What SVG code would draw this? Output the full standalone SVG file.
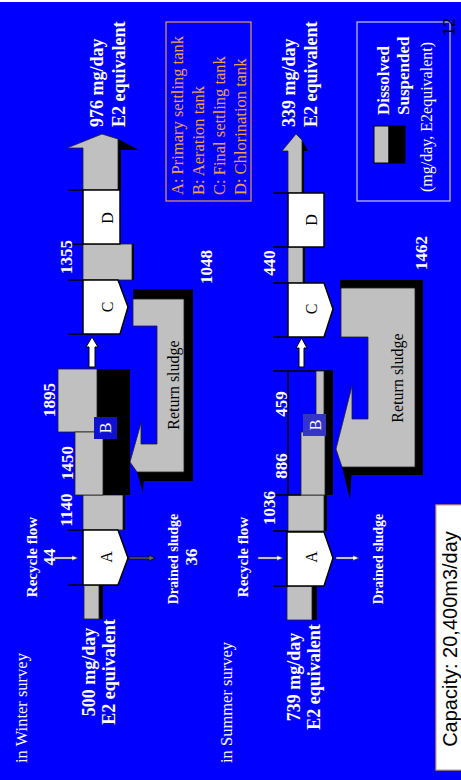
<svg xmlns="http://www.w3.org/2000/svg" width="461" height="780" viewBox="0 0 461 780">
<style>
.tank{fill:#ffffff;stroke:#000;stroke-width:1.5}
.g{fill:#c0c0c0;stroke:#222;stroke-width:0.8}
.k{fill:#000}
.tick{stroke:#000;stroke-width:1.5}
.wl{font-family:"Liberation Serif",serif;font-weight:bold;fill:#fff}
.big{font-size:18px}
.num{font-size:17px;text-anchor:middle}
.lbl{font-size:15px;text-anchor:middle}
.tl{font-family:"Liberation Serif",serif;font-size:16px;fill:#000;text-anchor:middle}
.or{font-family:"Liberation Serif",serif;font-size:16.5px;fill:#f0a050}
.arw{fill:#fff;stroke:#333;stroke-width:0.6}
</style>
<rect x="0" y="0" width="461" height="780" fill="#fff"/>
<rect x="0" y="2" width="461" height="778" fill="#0000ff"/>

<g id="connectors">
  <!-- Winter effluent -->
  <rect class="k" x="118" y="148" width="3" height="42"/>
  <polygon class="k" points="118,139 139,150 118,150"/>
  <polygon class="g" points="83,190 83,148 67,148 102,134 118,139 118,190"/>
  <!-- Winter C-D -->
  <rect class="k" x="131" y="244" width="3" height="36"/>
  <rect class="g" x="83" y="244" width="49" height="36"/>
  <!-- Winter up arrow B->C -->
  <polygon class="tank" style="stroke-width:1" points="89,367 89,347 86,347 92,337 98,347 95,347 95,367"/>
  <!-- Winter A-B -->
  <rect class="k" x="122" y="495" width="3" height="35"/>
  <rect class="g" x="83" y="495" width="40" height="35"/>
  <!-- Winter influent -->
  <rect class="k" x="98" y="585" width="5" height="34"/>
  <rect class="g" x="84" y="585" width="15" height="34"/>
  <!-- Winter recycle / drained -->
  <polygon class="arw" points="54,557 72,557 72,555.5 78,558 72,560.5 72,559 54,559"/>
  <polygon style="fill:#666;stroke:#000;stroke-width:0.7" points="129,557 149,557 149,555 155,558 149,561 149,559 129,559"/>
  <!-- Winter return sludge -->
  <rect class="k" x="133" y="289" width="60" height="10"/>
  <rect class="k" x="184" y="289" width="9" height="192"/>
  <rect class="k" x="143" y="472" width="50" height="9"/>
  <polygon class="k" points="137,472 143,493 144,472"/>
  <polygon class="g" points="133,299 184,299 184,472 137,472 130,462 141,423 141,444 157,444 157,326 133,326"/>
  <text class="tl" transform="translate(179,385) rotate(-90)">Return sludge</text>

  <!-- Summer effluent -->
  <rect class="k" x="302" y="151" width="2" height="42"/>
  <polygon class="k" points="302,140 308,151 302,151"/>
  <polygon class="g" points="288,193 288,151 282,151 296,134 302,140 302,193"/>
  <!-- Summer C-D -->
  <rect class="k" x="302" y="247" width="3" height="36"/>
  <rect class="g" x="288" y="247" width="15" height="36"/>
  <!-- Summer up arrow -->
  <polygon class="tank" style="stroke-width:1" points="299,367 299,348 296,348 301.5,338 307,348 304,348 304,367"/>
  <!-- Summer A-B -->
  <rect class="k" x="323" y="495" width="4" height="36"/>
  <rect class="g" x="288" y="495" width="36" height="36"/>
  <!-- Summer influent -->
  <rect class="k" x="311" y="586" width="6" height="34"/>
  <rect class="g" x="287" y="586" width="25" height="34"/>
  <!-- Summer recycle / drained -->
  <polygon class="arw" points="258,557 277,557 277,555.5 283,558 277,560.5 277,559 258,559"/>
  <polygon class="arw" points="336,557 353,557 353,555.5 359,558 353,560.5 353,559 336,559"/>
  <!-- Summer return sludge -->
  <rect class="k" x="340" y="280" width="83" height="9"/>
  <rect class="k" x="415" y="280" width="8" height="195"/>
  <rect class="k" x="350" y="467" width="73" height="8"/>
  <polygon class="k" points="342,467 350,499 352,467"/>
  <polygon class="g" points="341,288 415,288 415,467 342,467 336,449 352,386 352,419 368,419 368,337 341,337"/>
  <text class="tl" transform="translate(403,378) rotate(-90)">Return sludge</text>
</g>

<g id="ticks">
  <line class="tick" x1="68" y1="190" x2="83" y2="190"/>
  <line class="tick" x1="68" y1="244" x2="83" y2="244"/>
  <line class="tick" x1="68" y1="280" x2="83" y2="280"/>
  <line class="tick" x1="68" y1="334" x2="83" y2="334"/>
  <line class="tick" x1="68" y1="530" x2="83" y2="530"/>
  <line class="tick" x1="68" y1="585" x2="83" y2="585"/>
  <line class="tick" x1="273" y1="193" x2="288" y2="193"/>
  <line class="tick" x1="273" y1="247" x2="288" y2="247"/>
  <line class="tick" x1="273" y1="283" x2="288" y2="283"/>
  <line class="tick" x1="273" y1="337" x2="288" y2="337"/>
  <line class="tick" x1="273" y1="371" x2="333" y2="371"/>
  <line class="tick" x1="288" y1="371" x2="288" y2="495"/>
  <line class="tick" x1="273" y1="495" x2="301" y2="495"/>
  <line class="tick" x1="273" y1="531" x2="288" y2="531"/>
  <line class="tick" x1="273" y1="586" x2="288" y2="586"/>
</g>

<!-- Winter tanks -->
<g id="winter-D">
  <rect class="tank" x="83" y="190" width="37" height="54"/>
  <text class="tl" transform="translate(113,218) rotate(-90)">D</text>
</g>
<g id="winter-C">
  <polygon class="tank" points="83,280 118,280 128,307 120,334 83,334"/>
  <text class="tl" transform="translate(113,307) rotate(-90)">C</text>
</g>
<g id="winter-B">
  <rect class="k" x="96" y="369" width="34" height="126"/>
  <rect class="g" x="58" y="369" width="39" height="63"/>
  <rect class="g" x="75" y="432" width="28" height="63"/>
  <rect x="94" y="417" width="23" height="22" fill="#1010d0"/>
  <text class="tl" style="fill:#fff" transform="translate(111,428) rotate(-90)">B</text>
</g>
<g id="winter-A">
  <polygon class="tank" points="83,530 118,530 128,558 118,585 83,585"/>
  <text class="tl" transform="translate(112,557) rotate(-90)">A</text>
</g>

<!-- Summer tanks -->
<g id="summer-D">
  <rect class="tank" x="288" y="193" width="36" height="54"/>
  <text class="tl" transform="translate(317,220) rotate(-90)">D</text>
</g>
<g id="summer-C">
  <polygon class="tank" points="288,283 324,283 333,309 324,337 288,337"/>
  <text class="tl" transform="translate(317,309) rotate(-90)">C</text>
</g>
<g id="summer-B">
  <rect class="k" x="324" y="371" width="9" height="124"/>
  <rect class="g" x="316" y="371" width="8" height="61"/>
  <rect class="g" x="301" y="432" width="24" height="63"/>
  <rect x="303" y="414" width="23" height="22" fill="#3535c5"/>
  <text class="tl" style="fill:#fff" transform="translate(321,425) rotate(-90)">B</text>
</g>
<g id="summer-A">
  <polygon class="tank" points="287,532 324,532 333,558 324,586 287,586"/>
  <text class="tl" transform="translate(317,557) rotate(-90)">A</text>
</g>

<g id="labels">
  <text class="wl big" transform="translate(103,127) rotate(-90)">976 mg/day</text>
  <text class="wl big" transform="translate(125,127) rotate(-90)">E2 equivalent</text>
  <text class="wl big" transform="translate(295,127) rotate(-90)">339 mg/day</text>
  <text class="wl big" transform="translate(317,127) rotate(-90)">E2 equivalent</text>
  <text class="wl big" style="text-anchor:middle" transform="translate(95,672) rotate(-90)">500 mg/day</text>
  <text class="wl big" style="text-anchor:middle" transform="translate(115,672) rotate(-90)">E2 equivalent</text>
  <text class="wl big" style="text-anchor:middle" transform="translate(300,677) rotate(-90)">739 mg/day</text>
  <text class="wl big" style="text-anchor:middle" transform="translate(320,677) rotate(-90)">E2 equivalent</text>

  <text class="wl num" transform="translate(55,400) rotate(-90)">1895</text>
  <text class="wl num" transform="translate(73,463) rotate(-90)">1450</text>
  <text class="wl num" transform="translate(72,510) rotate(-90)">1140</text>
  <text class="wl num" transform="translate(72,257) rotate(-90)">1355</text>
  <text class="wl num" transform="translate(212,267) rotate(-90)">1048</text>
  <text class="wl num" transform="translate(275,508) rotate(-90)">1036</text>
  <text class="wl num" transform="translate(287,466) rotate(-90)">886</text>
  <text class="wl num" transform="translate(287,404) rotate(-90)">459</text>
  <text class="wl num" transform="translate(275,263) rotate(-90)">440</text>
  <text class="wl num" transform="translate(427,253) rotate(-90)">1462</text>

  <text class="wl lbl" transform="translate(37,557) rotate(-90)">Recycle flow</text>
  <text class="wl num" transform="translate(55,557) rotate(-90)">44</text>
  <text class="wl lbl" style="font-size:14px" transform="translate(178,559) rotate(-90)">Drained sludge</text>
  <text class="wl num" transform="translate(197,557) rotate(-90)">36</text>
  <text class="wl lbl" transform="translate(248,557) rotate(-90)">Recycle flow</text>
  <text class="wl lbl" style="font-size:14px" transform="translate(383,559) rotate(-90)">Drained sludge</text>

  <text style="font-family:'Liberation Serif',serif;font-size:16.5px;fill:#fff" transform="translate(27,763) rotate(-90)">in Winter survey</text>
  <text style="font-family:'Liberation Serif',serif;font-size:16.5px;fill:#fff" transform="translate(232,763) rotate(-90)">in Summer survey</text>
</g>

<g id="legend-tanks">
  <rect x="166" y="22" width="85" height="179" fill="none" stroke="#e0a050" stroke-width="1.2"/>
  <text class="or" transform="translate(183,195) rotate(-90)">A: Primary settling tank</text>
  <text class="or" transform="translate(204,195) rotate(-90)">B: Aeration tank</text>
  <text class="or" transform="translate(225,195) rotate(-90)">C: Final settling tank</text>
  <text class="or" transform="translate(246,195) rotate(-90)">D: Chlorination tank</text>
</g>

<g id="legend-key">
  <rect x="357" y="22" width="93" height="179" fill="none" stroke="#c8c8ff" stroke-width="1.2"/>
  <rect x="374" y="126" width="15" height="37" fill="#c0c0c0" stroke="#000" stroke-width="1"/>
  <rect x="389" y="126" width="16" height="37" fill="#000" stroke="#000" stroke-width="1"/>
  <text class="wl" style="font-size:17px" transform="translate(389,115) rotate(-90)">Dissolved</text>
  <text class="wl" style="font-size:17px" transform="translate(409,115) rotate(-90)">Suspended</text>
  <text style="font-family:'Liberation Serif',serif;font-size:16px;fill:#fff" transform="translate(432,192) rotate(-90)">(mg/day, E2equivalent)</text>
</g>

<g id="page-number">
  <text style="font-family:'Liberation Sans',sans-serif;font-size:16px;fill:#000;text-anchor:middle" transform="translate(455,27) rotate(-90)">12</text>
</g>

<g id="capacity">
  <rect x="436" y="505" width="30" height="265" fill="#fff" stroke="#e0b040" stroke-width="1.2"/>
  <text style="font-family:'Liberation Sans',sans-serif;font-size:20px;fill:#000;text-anchor:middle" transform="translate(457,639) rotate(-90)">Capacity: 20,400m3/day</text>
</g>
</svg>
